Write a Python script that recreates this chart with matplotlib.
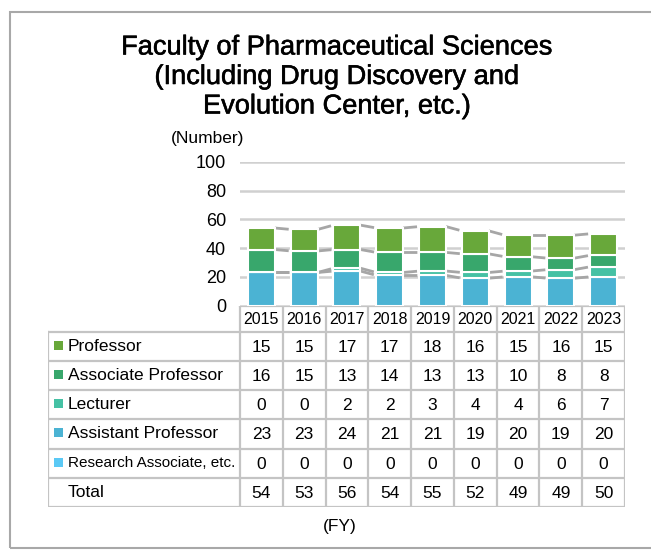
import matplotlib
matplotlib.use('Agg')
import matplotlib.pyplot as plt
import matplotlib.patheffects as pe
from matplotlib.patches import Rectangle

plt.rcParams['font.family'] = ['Liberation Sans', 'DejaVu Sans']

years = ['2015', '2016', '2017', '2018', '2019', '2020', '2021', '2022', '2023']
professor = [15, 15, 17, 17, 18, 16, 15, 16, 15]
associate = [16, 15, 13, 14, 13, 13, 10, 8, 8]
lecturer = [0, 0, 2, 2, 3, 4, 4, 6, 7]
assistant = [23, 23, 24, 21, 21, 19, 20, 19, 20]
research = [0, 0, 0, 0, 0, 0, 0, 0, 0]
total = [54, 53, 56, 54, 55, 52, 49, 49, 50]

# bottom -> top stacking order
stack = [
    ('Research Associate, etc.', research, '#5bc9f5'),
    ('Assistant Professor', assistant, '#4bb3d3'),
    ('Lecturer', lecturer, '#45c1a4'),
    ('Associate Professor', associate, '#38a76c'),
    ('Professor', professor, '#68a83a'),
]

W, H = 651, 551
fig = plt.figure(figsize=(W / 100, H / 100), dpi=100)


def px_box(x0, y0, x1, y1):
    return [x0 / W, 1 - y1 / H, (x1 - x0) / W, (y1 - y0) / H]


# outer frame
fig.add_artist(Rectangle((10 / W, 1 - 548 / H), 700 / W, 536 / H, transform=fig.transFigure,
                         fill=False, edgecolor='#a8a8a8', lw=1.5))

title_lines = ['Faculty of Pharmaceutical Sciences',
               '(Including Drug Discovery and',
               'Evolution Center, etc.)']
for k, line in enumerate(title_lines):
    fig.text(337 / W, 1 - (47.5 + 29.5 * k) / H, line, ha='center', va='center', fontsize=19.6,
             path_effects=[pe.withStroke(linewidth=0.4, foreground='black')])

fig.text(208 / W, 1 - 138 / H, '(Number)', ha='center', va='center', fontsize=12.5)
fig.text(340 / W, 1 - 527 / H, '(FY)', ha='center', va='center', fontsize=12.5)

# chart
ax = fig.add_axes(px_box(240, 162, 625, 305.5))
x = list(range(len(years)))
bw = 0.63
bottom = [0] * len(years)
levels = []
for name, vals, color in stack:
    ax.bar(x, vals, bw, bottom=bottom, color=color, edgecolor='white', lw=1.5, zorder=2)
    bottom = [b + v for b, v in zip(bottom, vals)]
    levels.append((name, list(bottom)))

# series lines between bars
for name, lv in levels[1:]:
    for i in range(len(years) - 1):
        ax.plot([i + bw / 2, i + 1 - bw / 2], [lv[i], lv[i + 1]], color='#a6a6a6',
                lw=2, ls=(1, (6, 1.5)), zorder=1.5, solid_capstyle='butt')

ax.set_xlim(-0.5, len(years) - 0.5)
ax.set_ylim(0, 100)
ax.set_yticks([0, 20, 40, 60, 80, 100])
ax.yaxis.grid(True, color='#d0d0d0', lw=1.8)
ax.set_axisbelow(True)
ax.set_xticks([])
ax.tick_params(axis='y', length=0, pad=10, labelsize=13)
for s in ax.spines.values():
    s.set_visible(False)

# data table
col_w = (625 - 240) / len(years)
left = -0.5 - (240 - 48) / col_w
tax = fig.add_axes(px_box(48, 305.5, 625, 507))
tax.set_xlim(left, len(years) - 0.5)
tax.set_ylim(201.5, 0)
tax.axis('off')

head_h = 26
row_h = 29.25
grid_kw = dict(color='#c4c4c4', lw=1.6, solid_capstyle='projecting')

tax.plot([-0.5, len(years) - 0.5], [0, 0], **grid_kw)
for r in range(7):
    y = head_h + r * row_h
    tax.plot([left, len(years) - 0.5], [y, y], **grid_kw)
tax.plot([left, left], [head_h, 201.5], **grid_kw)
for i in range(len(years) + 1):
    tax.plot([i - 0.5, i - 0.5], [0, 201.5], **grid_kw)

for i, yr in enumerate(years):
    tax.text(i, head_h / 2 + 1, yr, ha='center', va='center', fontsize=11.5)

rows = [(name, vals, color) for name, vals, color in stack[::-1]] + [('Total', total, None)]
sq = 9
for r, (name, vals, color) in enumerate(rows):
    yc = head_h + (r + 0.5) * row_h
    if color is not None:
        tax.add_patch(Rectangle((left + 6 / col_w, yc - sq / 2 - 1), sq / col_w, sq,
                                facecolor=color, edgecolor='none'))
    fs = 11 if name.startswith('Research') else 12.5
    tax.text(left + 20 / col_w, yc, name, ha='left', va='center', fontsize=fs)
    for i, v in enumerate(vals):
        tax.text(i, yc + 1, str(v), ha='center', va='center', fontsize=12.5)

fig.savefig('out.png', dpi=100)
